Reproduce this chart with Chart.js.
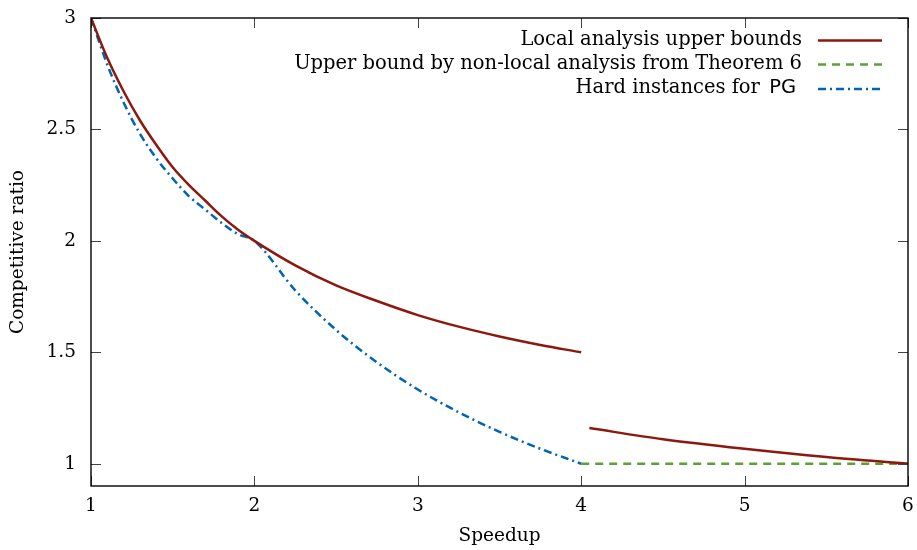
<!DOCTYPE html>
<html>
<head>
<meta charset="utf-8">
<script src="https://cdn.jsdelivr.net/npm/chart.js@4.4.1/dist/chart.umd.min.js"></script>
<style>
  html, body { margin: 0; padding: 0; background: #fff; }
  #wrap { width: 917px; height: 550px; }
</style>
</head>
<body>
<div id="wrap"><canvas id="c" width="917" height="550"></canvas></div>
<script>
// values
const xTicks = [1, 2, 3, 4, 5, 6];
const yTicks = [1, 1.5, 2, 2.5, 3];

const localX  = [1, 1.1, 1.2, 1.3, 1.4, 1.5, 1.6, 1.7, 1.8, 1.9, 2, 2.25, 2.5, 2.75, 3, 3.25, 3.5, 3.75, 4];
const localY  = [3, 2.82, 2.67, 2.54, 2.43, 2.33, 2.25, 2.18, 2.11, 2.05, 2, 1.89, 1.8, 1.73, 1.667, 1.615, 1.571, 1.533, 1.5];
const local2X = [4.05, 4.5, 5, 5.5, 6];
const local2Y = [1.16, 1.11, 1.067, 1.03, 1.0];

const nonLocalX = [4, 6];
const nonLocalY = [1, 1];

const hardX = [1, 1.1, 1.2, 1.3, 1.4, 1.5, 1.6, 1.7, 1.8, 1.9, 2, 2.25, 2.5, 2.75, 3, 3.25, 3.5, 3.75, 4];
const hardY = [3, 2.79, 2.62, 2.48, 2.37, 2.28, 2.20, 2.14, 2.08, 2.03, 2, 1.778, 1.6, 1.455, 1.333, 1.231, 1.143, 1.067, 1.0];

const labels = [
    'Local analysis upper bounds',
    'Upper bound by non-local analysis from Theorem 6',
    'Hard instances for '
];

const SERIF = '"DejaVu Serif", serif';
const FSIZE = 18.5;
const LEGEND_SIZE = 19.5;

function pts(xs, ys) {
    return xs.map((x, i) => ({x: x, y: ys[i]}));
}

// red line has a jump at 4, keep it as one dataset with a gap
const localData = pts(localX, localY).concat([{x: 4.02, y: null}], pts(local2X, local2Y));

// frame, inward ticks on all four sides, and the legend
const framePlugin = {
    id: 'frame',
    afterDraw(chart) {
        const ctx = chart.ctx;
        const a = chart.chartArea;
        const sx = chart.scales.x, sy = chart.scales.y;
        ctx.save();
        ctx.strokeStyle = '#444';
        ctx.lineWidth = 1;
        ctx.beginPath();
        xTicks.forEach(v => {
            const px = Math.round(sx.getPixelForValue(v)) + 0.5;
            ctx.moveTo(px, a.bottom); ctx.lineTo(px, a.bottom - 10);
            ctx.moveTo(px, a.top); ctx.lineTo(px, a.top + 10);
        });
        yTicks.forEach(v => {
            const py = Math.round(sy.getPixelForValue(v)) + 0.5;
            ctx.moveTo(a.left, py); ctx.lineTo(a.left + 10, py);
            ctx.moveTo(a.right, py); ctx.lineTo(a.right - 10, py);
        });
        ctx.stroke();
        ctx.strokeStyle = '#000';
        ctx.lineWidth = 1.4;
        ctx.strokeRect(a.left, a.top, a.right - a.left, a.bottom - a.top);

        // legend, right aligned text with the line sample on the right
        const rows = [40.5, 64.5, 89];
        chart.data.datasets.forEach((ds, i) => {
            const y = rows[i];
            ctx.textBaseline = 'alphabetic';
            ctx.textAlign = 'right';
            ctx.fillStyle = '#000';
            let textRight = 802;
            if (i === 2) {
                ctx.font = LEGEND_SIZE + 'px "DejaVu Sans", sans-serif';
                textRight = 796;
                ctx.fillText('PG', textRight, y + 4);
                textRight -= ctx.measureText('PG').width + 3;
            }
            ctx.font = LEGEND_SIZE + 'px ' + SERIF;
            ctx.fillText(ds.label, textRight, y + 4);
            ctx.strokeStyle = ds.borderColor;
            ctx.lineWidth = ds.borderWidth;
            ctx.setLineDash(ds.borderDash || []);
            ctx.beginPath();
            ctx.moveTo(818, y);
            ctx.lineTo(882, y);
            ctx.stroke();
            ctx.setLineDash([]);
        });
        ctx.restore();
    }
};

new Chart(document.getElementById('c'), {
    type: 'line',
    data: {
        datasets: [{
            label: labels[0],
            data: localData,
            borderColor: 'rgb(140,24,14)',
            borderWidth: 2.5,
            pointRadius: 0,
            spanGaps: false,
            cubicInterpolationMode: 'monotone'
        }, {
            label: labels[1],
            data: pts(nonLocalX, nonLocalY),
            borderColor: 'rgb(92,160,56)',
            borderWidth: 2.5,
            borderDash: [8, 6],
            pointRadius: 0
        }, {
            label: labels[2],
            data: pts(hardX, hardY),
            borderColor: 'rgb(0,100,180)',
            borderWidth: 2.5,
            borderDash: [8, 4, 2, 4],
            pointRadius: 0,
            cubicInterpolationMode: 'monotone'
        }]
    },
    options: {
        responsive: false,
        animation: false,
        layout: {
            padding: {top: 18, right: 9, left: 0, bottom: 0}
        },
        scales: {
            x: {
                type: 'linear',
                min: 1,
                max: 6,
                afterBuildTicks: (s) => { s.ticks = xTicks.map(v => ({value: v})); },
                afterFit: (s) => {
                    s.height = 64;
                    s.paddingLeft = 0; s.paddingRight = 0;
                },
                grid: {display: false, drawTicks: false},
                border: {display: false},
                ticks: {
                    color: '#000',
                    padding: 9,
                    maxRotation: 0,
                    font: {family: SERIF, size: FSIZE}
                },
                title: {
                    display: true,
                    text: 'Speedup',
                    color: '#000',
                    padding: {top: 2, bottom: 3},
                    font: {family: SERIF, size: FSIZE}
                }
            },
            y: {
                min: 0.9,
                max: 3,
                afterBuildTicks: (s) => { s.ticks = yTicks.map(v => ({value: v})); },
                afterFit: (s) => {
                    s.width = 91;
                    s.paddingTop = 0; s.paddingBottom = 0;
                },
                grid: {display: false, drawTicks: false},
                border: {display: false},
                ticks: {
                    color: '#000',
                    padding: 15,
                    font: {family: SERIF, size: FSIZE},
                    callback: (v) => String(v)
                },
                title: {
                    display: true,
                    text: 'Competitive ratio',
                    color: '#000',
                    padding: {top: 7, bottom: 4},
                    font: {family: SERIF, size: FSIZE}
                }
            }
        },
        plugins: {
            legend: {display: false},
            tooltip: {enabled: false}
        }
    },
    plugins: [framePlugin]
});
</script>
</body>
</html>
